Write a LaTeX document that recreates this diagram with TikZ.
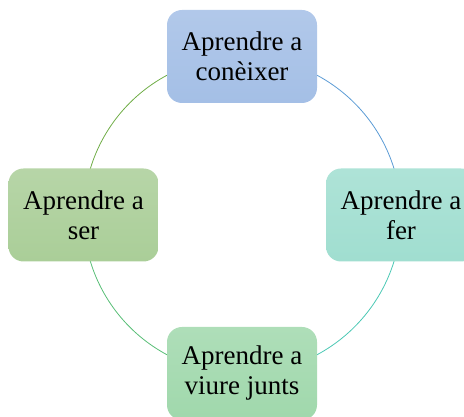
\documentclass[tikz,border=0pt]{standalone}
\usepackage{fontspec}
\setmainfont{Liberation Serif}
\usetikzlibrary{calc,backgrounds}
\definecolor{boxblue}{RGB}{164,191,230}
\definecolor{boxteal}{RGB}{160,222,208}
\definecolor{boxgreen}{RGB}{160,216,172}
\definecolor{boxolive}{RGB}{170,206,152}
\definecolor{arcblue}{RGB}{91,155,213}
\definecolor{arcteal}{RGB}{75,200,180}
\definecolor{arcgreen}{RGB}{88,190,118}
\definecolor{arcolive}{RGB}{112,173,71}

\begin{document}
\begin{tikzpicture}[x=1pt,y=1pt,box/.style={rounded corners=15pt,align=center,minimum width=150pt,minimum height=93pt,inner sep=0pt,font=\fontsize{27}{30}\selectfont},ring/.style={line width=.8pt}]
\clip (0,0) rectangle (464,417);
\coordinate (c) at (242,202);
\node[box,top color=boxblue!85!white,bottom color=boxblue] (con) at ($(c)+(90:158.5)$) {Aprendre a\\conèixer};
\node[box,top color=boxteal!85!white,bottom color=boxteal] (fer) at ($(c)+(0:159)$) {Aprendre a\\fer};
\node[box,top color=boxgreen!85!white,bottom color=boxgreen] (junts) at ($(c)+(270:158.5)$) {Aprendre a\\viure junts};
\node[box,top color=boxolive!85!white,bottom color=boxolive] (ser) at ($(c)+(180:158.5)$) {Aprendre a\\ser};
\begin{scope}[on background layer]
\draw[ring,arcblue](con.center) to[bend left=45] (fer.center);
\draw[ring,arcteal](fer.center) to[bend left=45] (junts.center);
\draw[ring,arcgreen](junts.center) to[bend left=45] (ser.center);
\draw[ring,arcolive](ser.center) to[bend left=45] (con.center);
\end{scope}
\end{tikzpicture}
\end{document}
